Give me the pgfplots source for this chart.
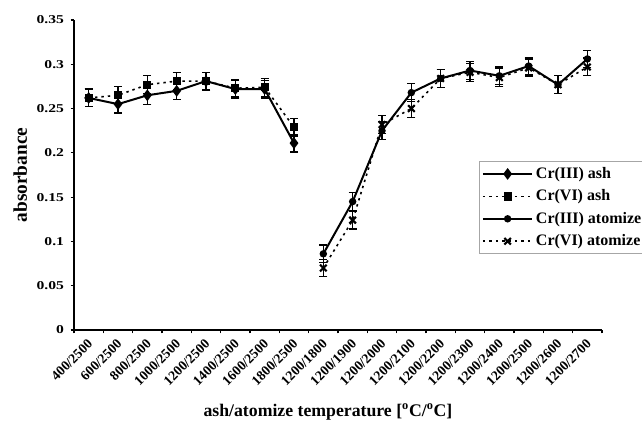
\documentclass[border=0pt]{standalone}
\usepackage{fontspec}
\setmainfont{Liberation Serif}
\newfontfamily\ytickfont[FakeStretch=1.3]{Liberation Serif}
\usepackage{pgfplots}
\pgfplotsset{compat=1.18}

% absorbance readings, one table per series
\pgfplotstableread{
x y
0 0.262
1 0.255
2 0.265
3 0.270
4 0.281
5 0.272
6 0.272
7 0.211
}\crIIIash
\pgfplotstableread{
x y
0 0.262
1 0.265
2 0.277
3 0.281
4 0.281
5 0.273
6 0.274
7 0.229
}\crVIash
\pgfplotstableread{
x y
8 0.086
9 0.145
10 0.225
11 0.268
12 0.284
13 0.293
14 0.287
15 0.298
16 0.277
17 0.306
}\crIIIatom
\pgfplotstableread{
x y
8 0.070
9 0.124
10 0.232
11 0.250
12 0.284
13 0.291
14 0.285
15 0.296
16 0.277
17 0.297
}\crVIatom

\begin{document}
\begin{tikzpicture}
\useasboundingbox (-55.5pt,-73.5pt) rectangle (426pt,247.5pt);
\begin{axis}[
  at={(0,0)}, anchor=south west,
  width=396pt, height=232.5pt, scale only axis,
  xmin=-0.5, xmax=17.5, ymin=0, ymax=0.35,
  axis x line*=bottom, axis y line*=left,
  axis line style={line width=0.8pt, -},
  xtick={0,...,17},
  xticklabels={400/2500,600/2500,800/2500,1000/2500,1200/2500,1400/2500,1600/2500,1800/2500,1200/1800,1200/1900,1200/2000,1200/2100,1200/2200,1200/2300,1200/2400,1200/2500,1200/2600,1200/2700},
  minor xtick={-0.5,0.5,...,17.5},
  major x tick style={draw=none},
  minor tick length=2.5pt, major tick length=2.5pt,
  tick align=outside,
  tick style={line width=0.8pt, black},
  x tick label style={rotate=45, anchor=north east, font=\bfseries\fontsize{10.3}{11}\selectfont, xshift=-2pt, inner sep=1.5pt},
  ytick={0,0.05,...,0.35},
  yticklabels={0,0.05,0.1,0.15,0.2,0.25,0.3,0.35},
  y tick label style={font=\ytickfont\bfseries\fontsize{9}{10}\selectfont, xshift=-1.5pt},
  every axis y label/.style={at={(axis description cs:-0.102,0.5)}, rotate=90, anchor=center,
    font=\bfseries\fontsize{14.5}{16}\selectfont},
  every axis x label/.style={at={(axis description cs:0.481,-0.265)}, anchor=center,
    font=\bfseries\fontsize{13.3}{15}\selectfont},
  ylabel={absorbance},
  xlabel={ash/atomize temperature [\textsuperscript{o}C/\textsuperscript{o}C]},
  legend image code/.code={\draw[mark repeat=2,mark phase=2,#1] plot coordinates {(0cm,0cm) (0.65cm,0cm) (1.3cm,0cm)};},
  legend style={at={(axis description cs:0.767,0.545)}, anchor=north west,
    draw=gray!70, line width=0.5pt, fill=white,
    font=\bfseries\fontsize{12}{13}\selectfont, row sep=3pt,
    inner xsep=2pt, inner ysep=2.5pt},
  legend cell align=left,
  error bars/y dir=both, error bars/y fixed=0.01,
  error bars/error bar style={solid, line width=0.9pt, black},
  error bars/error mark options={rotate=90, solid, line width=0.9pt, mark size=3pt, black},
]
\addplot[black, line width=1.5pt, mark=diamond*, mark size=3.2pt, mark options={solid}] table[x=x,y=y] {\crIIIash};
\addplot[black, line width=1.2pt, dash pattern=on 1.8pt off 3pt, mark=square*, mark size=2.5pt, mark options={solid}] table[x=x,y=y] {\crVIash};
\addplot[black, line width=1.5pt, mark=*, mark size=2pt, mark options={solid}] table[x=x,y=y] {\crIIIatom};
\addplot[black, line width=1.2pt, dash pattern=on 1.8pt off 3pt, mark=x, mark size=3.5pt, mark options={solid, line width=1.6pt}] table[x=x,y=y] {\crVIatom};
\legend{Cr(III) ash, Cr(VI) ash, Cr(III) atomize, Cr(VI) atomize}
\end{axis}
\end{tikzpicture}
\end{document}
